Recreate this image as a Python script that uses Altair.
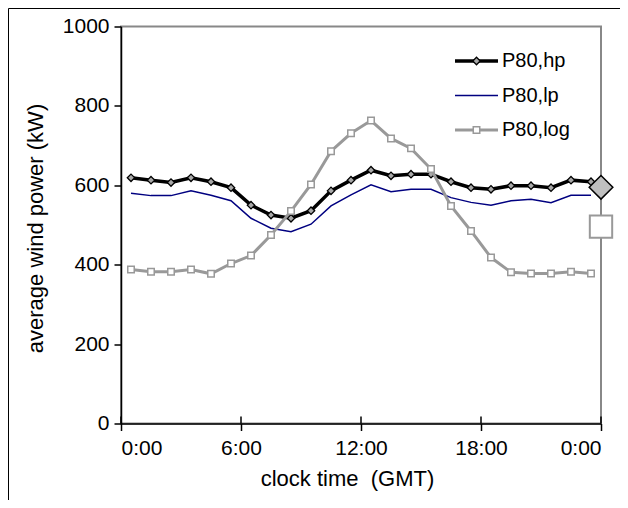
import altair as alt
import pandas as pd

# ---- data ----
hours = [0.5, 1.5, 2.5, 3.5, 4.5, 5.5, 6.5, 7.5, 8.5, 9.5, 10.5, 11.5,
         12.5, 13.5, 14.5, 15.5, 16.5, 17.5, 18.5, 19.5, 20.5, 21.5, 22.5, 23.5]
p80_hp = [619, 613, 607, 619, 609, 594, 550, 525, 517, 536, 586, 613,
          638, 624, 628, 628, 609, 594, 590, 599, 599, 594, 613, 609]
p80_lp = [580, 574, 574, 586, 575, 561, 517, 492, 483, 502, 548, 576,
          601, 584, 590, 590, 569, 557, 550, 561, 565, 556, 575, 575]
p80_log = [388, 382, 382, 388, 377, 403, 423, 475, 535, 602, 686, 731,
           763, 718, 693, 641, 548, 485, 418, 381, 378, 378, 382, 378]
avg_hour = [24, 24]
avg_value = [595, 496]
avg_series = ["P80,hp", "P80,log"]
tick_hours = [0, 6, 12, 18, 24]
y_ticks = [0, 200, 400, 600, 800, 1000]
legend_names = ["P80,hp", "P80,lp", "P80,log"]

df = pd.DataFrame({"hour": hours, "hp": p80_hp, "lp": p80_lp, "log": p80_log})
avg = pd.DataFrame({"hour": avg_hour, "value": avg_value, "series": avg_series})
ticks = pd.DataFrame({"hour": tick_hours})

FONT = "Liberation Sans"
W, H = 480, 397

xscale = alt.Scale(domain=[0, 24], nice=False)
yscale = alt.Scale(domain=[0, 1000], nice=False)

xenc = alt.X("hour:Q", scale=xscale,
             axis=alt.Axis(values=tick_hours, title="clock time\u00a0\u00a0(GMT)",
                           labelExpr="datum.value == 24 ? '0:00' : datum.value + ':00'",
                           grid=False, tickSize=7, labelPadding=7,
                           titleX=226, titleY=55, titleBaseline="middle", titleAlign="center"))
base = alt.Chart(df)

lp_line = base.mark_line(color="#000080", strokeWidth=1.5).encode(
    x=xenc,
    y=alt.Y("lp:Q", scale=yscale,
            axis=alt.Axis(values=y_ticks, format="d", title="average wind power (kW)",
                          grid=False, tickSize=7, labelPadding=5,
                          titleX=-86, titleY=201.5, titleBaseline="middle", titleAlign="center")))
hp_line = base.mark_line(color="black", strokeWidth=3.5).encode(x="hour:Q", y="hp:Q")
hp_pts = base.mark_point(shape="diamond", filled=True, fill="#a8a8a8", stroke="black",
                         strokeWidth=1.3, size=55, opacity=1).encode(x="hour:Q", y="hp:Q")
log_line = base.mark_line(color="#999999", strokeWidth=3).encode(x="hour:Q", y="log:Q")
log_pts = base.mark_point(shape="square", filled=True, fill="white", stroke="#999999",
                          strokeWidth=1.5, size=42, opacity=1).encode(x="hour:Q", y="log:Q")

avg_base = alt.Chart(avg)
avg_hp = avg_base.transform_filter("datum.series == 'P80,hp'").mark_point(
    shape="diamond", filled=True, fill="#bfbfbf", stroke="black", strokeWidth=1.5,
    size=560, opacity=1).encode(x="hour:Q", y="value:Q")
avg_log = avg_base.transform_filter("datum.series == 'P80,log'").mark_point(
    shape="square", filled=True, fill="white", stroke="#999999", strokeWidth=2,
    size=500, opacity=1).encode(x="hour:Q", y="value:Q")

# inward part of the crossing x ticks
in_ticks = alt.Chart(ticks).mark_rule(color="black", strokeWidth=1.5).encode(
    x="hour:Q", y=alt.value(H), y2=alt.value(H - 7))

# custom legend
leg = pd.DataFrame({"name": legend_names, "row": [0, 1, 2]})
leg_y = "34.5 + datum.row * 34.5"
lchart = alt.Chart(leg).transform_calculate(ly=leg_y)
lx1, lx2, lmid, ltx = 334, 377, 355.5, 381
leg_hp_line = lchart.transform_filter("datum.row == 0").mark_rule(color="black", strokeWidth=3.5).encode(
    x=alt.value(lx1), x2=alt.value(lx2), y=alt.Y("ly:Q", scale=None))
leg_hp_pt = lchart.transform_filter("datum.row == 0").mark_point(
    shape="diamond", filled=True, fill="#a8a8a8", stroke="black", strokeWidth=1.3, size=55,
    opacity=1).encode(x=alt.value(lmid), y=alt.Y("ly:Q", scale=None))
leg_lp_line = lchart.transform_filter("datum.row == 1").mark_rule(color="#000080", strokeWidth=1.5).encode(
    x=alt.value(lx1), x2=alt.value(lx2), y=alt.Y("ly:Q", scale=None))
leg_log_line = lchart.transform_filter("datum.row == 2").mark_rule(color="#999999", strokeWidth=3).encode(
    x=alt.value(lx1), x2=alt.value(lx2), y=alt.Y("ly:Q", scale=None))
leg_log_pt = lchart.transform_filter("datum.row == 2").mark_point(
    shape="square", filled=True, fill="white", stroke="#999999", strokeWidth=1.5, size=42,
    opacity=1).encode(x=alt.value(lmid), y=alt.Y("ly:Q", scale=None))
leg_text = lchart.mark_text(align="left", baseline="middle", font=FONT, fontSize=20,
                            color="black").encode(
    x=alt.value(ltx), y=alt.Y("ly:Q", scale=None), text="name:N")

# outer frame of the figure
frame_top = alt.Chart(ticks.head(1)).mark_rule(color="black", strokeWidth=1).encode(
    x=alt.value(-112.5), x2=alt.value(W + 19), y=alt.value(-18))
frame_left = alt.Chart(ticks.head(1)).mark_rule(color="black", strokeWidth=1).encode(
    x=alt.value(-112.5), y=alt.value(-18), y2=alt.value(H + 80))

chart = alt.layer(
    lp_line, hp_line, hp_pts, log_line, log_pts, in_ticks, avg_hp, avg_log,
    leg_hp_line, leg_hp_pt, leg_lp_line, leg_log_line, leg_log_pt, leg_text,
    frame_top, frame_left
).properties(
    width=W, height=H,
    autosize=alt.AutoSizeParams(type="none"),
    padding={"left": 113, "top": 18.5, "right": 19, "bottom": 76.5},
).configure_view(
    stroke="#888888", strokeWidth=2
).configure_axis(
    domainColor="black", domainWidth=1.5, tickColor="black", tickWidth=1.5,
    labelFont=FONT, labelFontSize=21, labelColor="black",
    titleFont=FONT, titleFontSize=22, titleFontWeight="normal", titleColor="black"
)

chart.save("out.html", embed_options={"renderer": "svg", "actions": False})
